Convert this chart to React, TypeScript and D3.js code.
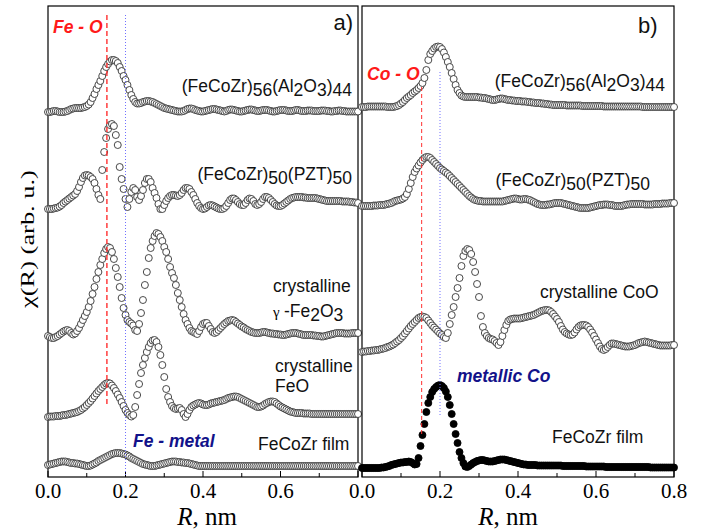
import React, { useEffect, useRef } from "react";
import * as d3 from "d3";

// R grid of every trace, nm (0 .. 0.8 in steps of 0.005)
const R_STEP = 0.005;
const R_COUNT = 161;

const xTicksA = [0.0, 0.2, 0.4, 0.6];
const xTicksB = [0.0, 0.2, 0.4, 0.6, 0.8];
const minorTicks = [0.1, 0.3, 0.5, 0.7];

// Fe-O and metal reference lines, nm
const feO = 0.152;
const feMetal = 0.2;
const coO = 0.153;
const coMetal = 0.2;

// vertical offsets of the stacked traces (arb. u.)
const offsetsA = [365, 267, 141, 60, 11];
const offsetsB = [370, 271, 125, 9];

// panel a) Fe edge
const feAl2O3 = [
  0, 0, 0.5, 1, 1, 0.5, 0, 0, 0, 0.5,
  1, 2, 3, 3.5, 4, 4, 4, 4, 4.5, 5,
  6, 7.5, 10, 14, 18, 23, 27, 31, 36, 41,
  45, 48, 50.5, 52, 52, 51, 49, 45, 41, 36,
  32, 27, 22, 17, 13, 10, 8.5, 8.5, 9, 10,
  10.5, 11, 11, 10.5, 10, 9, 8, 7, 6, 5,
  4, 3.5, 3, 2.5, 2, 1.5, 1, 0.5, 0.5, 0.5,
  1, 2, 3, 3.5, 3.5, 3, 2, 1.5, 1, 0.5,
  0.5, 1, 1.5, 2, 2.5, 3, 3, 2.5, 2, 1.5,
  1, 0.5, 1, 2, 2.5, 2.5, 2, 1.5, 1, 0.5,
  0.5, 1, 1.5, 2, 2.5, 2.5, 2, 1.5, 1, 1,
  1.5, 2, 2, 2, 1.5, 1, 0.5, 0.5, 1, 1.5,
  2, 2, 2, 1.5, 1, 1, 1, 1.5, 2, 2,
  1.5, 1, 1, 1, 1.5, 1.5, 1.5, 1, 1, 1,
  1, 1.5, 1.5, 1.5, 1, 1, 0.5, 0.5, 1, 1,
  1.5, 1.5, 1, 1, 0.5, 0.5, 0.5, 0.5, 0.5, 0.5,
  0.5,
];
const fePZT = [
  1, 1, 1, 1.5, 2, 2.5, 3.5, 5, 7, 8.5,
  10, 11.5, 13, 14.5, 16, 19, 23, 28, 32, 34.5,
  35, 34.5, 33, 31, 27, 21, 15, 11, 40, 58,
  72, 81, 85, 86, 84, 75, 65, 43, 31, 21,
  11, 3, 11, 18, 22, 20, 13, 10, 14, 20,
  27, 31, 31, 28, 22, 17, 12, 6, 1, 1,
  5, 9, 12, 14, 15, 15, 14.5, 14, 15, 17,
  20, 22, 22, 21, 18, 15, 11, 7, 4, 2,
  1, 1.5, 3, 4.5, 5, 4.5, 3.5, 2.5, 1.5, 1,
  1, 2, 4, 7, 10, 11.5, 11.5, 10, 8, 6,
  5, 5, 7, 10, 11.5, 11, 9, 6, 5, 6,
  8, 11, 13, 13, 12, 10, 8, 6, 4.5, 4,
  4, 5, 6.5, 8, 9.5, 11, 12, 12.5, 13, 13,
  13, 13, 12.5, 12.5, 12, 12, 12, 12, 12, 11.5,
  11, 10.5, 10, 9.5, 9, 9, 9, 9, 9, 9,
  9, 9, 8.5, 8.5, 8.5, 8.5, 8, 8, 7.5, 7.5,
  7,
];
const feGammaFe2O3 = [
  0, -1, -2, -2, -1, 0, 1.5, 3, 4.5, 5.5,
  6, 5, 3, 1.5, 2.5, 5, 8, 12, 16, 20,
  24, 29, 35, 42, 49, 57, 64, 71, 77, 83,
  87, 89, 88, 84, 77, 68, 59, 49, 38, 28,
  21, 16, 14, 12.5, 10.5, 6, 5, 12, 23, 36,
  51, 64, 78, 88, 95, 100, 103, 102, 99, 95,
  89, 84, 77, 69, 63, 58, 51, 43, 36, 29,
  22, 16, 12, 8, 5, 4, 3, 2, 5, 9,
  12, 13, 13, 10, 7, 4, 3, 4, 6, 8,
  10, 12, 13.5, 15, 15.5, 16, 15.5, 14, 12.5, 11,
  9.5, 8.5, 7, 6, 5, 4, 3.5, 3, 3, 3,
  3.5, 4, 4, 3.5, 3, 2.5, 2.5, 2, 2, 1.5,
  1.5, 1, 1, 1.5, 2, 2.5, 3, 3, 3, 2.5,
  2, 1.5, 1, 1, 1, 1, 1, 0.5, 0.5, 0,
  0, -0.5, -0.5, 0, 0.5, 1, 1.5, 2, 2.5, 3,
  3, 3, 3, 2.5, 2.5, 2.5, 2.5, 3, 3, 3,
  3,
];
const feFeO = [
  0, 0.5, 0.5, 0.5, 1, 1, 1, 1.5, 2, 2,
  2.5, 3, 3.5, 4, 4.5, 5, 6, 7, 8.5, 10,
  12, 14, 16, 18.5, 21, 23.5, 26, 28, 30, 32,
  33.5, 34, 33.5, 31.5, 29, 26, 22.5, 19, 15, 11,
  7, 4, 2, 0.5, 2, 10, 22, 33, 44, 52,
  59, 65, 70, 74, 76.5, 77, 75, 70, 62, 52,
  40, 28, 20, 15, 11, 9, 8, 8.5, 9, 7,
  3, 0, 3, 7, 10, 11.5, 12.5, 13.5, 14, 13.5,
  12.5, 12, 12, 12.5, 13.5, 14, 14.5, 15, 15.5, 16,
  16.5, 17, 18, 19, 19.5, 20, 20.5, 20.5, 20, 19,
  18, 17, 16, 15, 14, 13, 12, 11, 10, 10,
  10.5, 11.5, 13, 14, 15, 15.5, 15.5, 15, 13.5, 12,
  10.5, 9.5, 8.5, 7.5, 6.5, 5.5, 5, 4.5, 4, 4,
  4, 4, 3.5, 3.5, 3.5, 3.5, 3, 3, 3, 3,
  3, 3, 3, 3, 3, 3, 3, 3, 3, 3,
  3, 3, 3, 3, 3, 3, 3, 3, 3, 3,
  3,
];
const feFilm = [
  1, 1.5, 2, 2.5, 3, 3.5, 4, 4.5, 4.5, 4.5,
  4, 3.5, 3, 3, 2.5, 2.5, 2, 1.5, 1, 0.5,
  0, 0, 0.5, 1.5, 2.5, 3.5, 5, 6, 7, 8,
  9, 10, 11, 12, 12.5, 13, 13, 13, 12.5, 12,
  11.5, 10.5, 9.5, 8, 7, 6, 5, 4, 3, 2,
  1.5, 1, 0.5, 0, 0, 0, 0.5, 1, 1.5, 2,
  2.5, 3, 3.5, 4, 4.5, 4.5, 4.5, 4, 4, 3.5,
  3.5, 3, 3, 2.5, 2, 1.5, 1, 0.5, 0, 0,
  0, 0, 0, 0, 0, 0, 0, 0, 0, 0,
  0, 0, 0, 0, 0, 0, 0, 0, 0, 0,
  0, 0, 0, 0, 0, 0, 0, 0, 0, 0,
  0, 0, 0, 0, 0, 0, 0, 0, 0, 0,
  0, 0, 0, 0, 0, 0, 0, 0, 0, 0,
  0, 0, 0, 0, 0, 0, 0, 0, 0, 0,
  0, 0, 0, 0, 0, 0, 0, 0, 0, 0,
  0, 0, 0, 0, 0, 0, 0, 0, 0, 0,
  0,
];

// panel b) Co edge
const coAl2O3 = [
  0, 0, 0, 0.5, 0.5, 0.5, 0.5, 0.5, 0.5, 0.5,
  0.5, 0.5, 0.5, 0, 0, 0, 0, 0.5, 1, 2,
  3.5, 5, 7, 9, 10.5, 12, 14, 15.5, 17, 19,
  21, 24, 29, 37, 47, 53, 56, 58.5, 60, 60.5,
  60, 58, 54.5, 50, 45, 40, 34, 28, 22, 17,
  14, 11.5, 10.5, 10, 10, 10, 10, 10, 10, 10,
  9.5, 9.5, 9, 9, 8.5, 8, 7.5, 7, 7, 7.5,
  8, 8.5, 8.5, 8, 7.5, 7, 7, 6.5, 6.5, 6,
  6, 6, 5.5, 5.5, 5.5, 5, 5, 4.5, 4.5, 4,
  4, 4, 3.5, 3.5, 3, 3, 2.5, 2.5, 2, 2,
  2, 2, 2, 2, 2, 1.5, 1.5, 1.5, 1.5, 1.5,
  1.5, 1.5, 1.5, 1, 1, 1, 1, 1, 1, 1,
  1, 1, 1, 1, 0.5, 0.5, 0.5, 0.5, 0.5, 0.5,
  0.5, 0.5, 0.5, 0.5, 0.5, 0.5, 0.5, 0.5, 0.5, 0.5,
  0.5, 0.5, 0.5, 0.5, 0, 0, 0, 0, 0, 0,
  0, 0, 0, 0, 0, 0, 0, 0, 0, 0,
  0,
];
const coPZT = [
  0, 0, 0, 0, 0, 0, 0.5, 0.5, 0.5, 1,
  1, 1, 1.5, 2, 2.5, 3, 4, 5, 5.5, 6,
  6.5, 7.5, 9, 12, 17, 23, 29, 34, 37.5, 40.5,
  43.5, 46, 48, 49, 49, 48, 46, 44, 42, 40,
  38, 36.5, 35, 33.5, 32, 30, 28, 26, 24, 22,
  20, 18, 16, 14, 12, 10, 8.5, 7, 6, 5.5,
  5, 5, 4.5, 4.5, 4.5, 4.5, 4.5, 4.5, 4.5, 4.5,
  4.5, 4.5, 4.5, 5, 5.5, 6, 6.5, 7, 7.5, 7.5,
  7, 6.5, 6.5, 7, 7, 6.5, 6, 5, 4, 3,
  2, 1.5, 1, 1, 1, 1.5, 1.5, 2, 2.5, 3,
  3, 3, 3, 2.5, 2, 1.5, 1, 0.5, 0, -0.5,
  -1, -1.5, -2, -2, -2, -2, -2, -1.5, -1, -0.5,
  0, 0.5, 1, 1, 1.5, 1.5, 1.5, 1, 1, 0.5,
  0, 0, 0, 0, 0.5, 1, 1.5, 1.5, 2, 2,
  2, 2, 2, 2, 2, 1.5, 1.5, 1.5, 1.5, 1.5,
  2, 2, 2, 2, 2.5, 2.5, 2.5, 2.5, 3, 3,
  3,
];
const coCoO = [
  0, 0.5, 0.5, 1, 1, 1.5, 1.5, 2, 2, 2.5,
  3, 3.5, 4, 5, 5.5, 6.5, 7.5, 9, 10.5, 12,
  14, 16, 18.5, 21, 23.5, 26, 28, 30, 32, 34,
  35, 35.5, 35, 34, 31.5, 29, 26.5, 24.5, 22.5, 20.5,
  18.5, 17, 15, 14, 19, 28, 37, 45, 55, 64,
  74, 86, 96, 101, 103, 102, 98, 90, 80, 68,
  55, 36, 25, 19, 16, 14, 13, 12.5, 11, 9,
  7, 10, 16, 22, 27, 31, 32.5, 33, 33.5, 33.5,
  33.5, 33.5, 34, 34.5, 35, 35.5, 36, 36.5, 37, 38,
  39, 40, 41, 41.5, 42, 42, 41.5, 40, 38, 35.5,
  33, 30, 26, 22.5, 20, 18.5, 17.5, 17, 17.5, 19.5,
  22.5, 25, 26.5, 27, 27, 26.5, 25, 22.5, 19.5, 16,
  12.5, 9, 5.5, 3, 2, 3, 5, 7, 8.5, 8.5,
  8, 7.5, 7, 6.5, 6, 5.5, 5.5, 5.5, 6, 6.5,
  7, 8, 9, 9.5, 10, 10.5, 10, 9.5, 9, 8.5,
  8, 7.5, 7, 6.5, 6.5, 6.5, 6.5, 6.5, 6.5, 7,
  7,
];
const coFilm = [
  0, 0, 0, 0, 0, 0, 0, 0, 0, 0,
  0.5, 0.5, 1, 1.5, 2, 3, 3.5, 4, 4.5, 5,
  5.5, 5.5, 6, 6, 6.5, 6, 5, 3.5, 4, 10,
  22, 33, 44, 56, 65, 71, 76, 79, 81, 82.5,
  83, 82, 80, 76.5, 71, 63, 54, 44, 34, 25,
  16, 10, 5, 1.5, 1, 2, 3.5, 5, 6, 7,
  7.5, 8, 8, 7.5, 7, 6.5, 6.5, 6.5, 7, 7.5,
  8, 8.5, 8.5, 8.5, 8, 7.5, 7, 6.5, 6, 5.5,
  5, 4.5, 4, 3.5, 3.5, 3, 3, 3, 3, 3,
  2.5, 2.5, 2.5, 2.5, 2.5, 2.5, 2.5, 2.5, 2.5, 2.5,
  2.5, 2.5, 2.5, 2, 2, 2, 2, 2, 2, 2,
  2, 2, 2, 2, 2, 1.5, 1.5, 1.5, 1.5, 1.5,
  1.5, 1.5, 1.5, 1.5, 1.5, 1, 1, 1, 1, 1,
  1, 1, 1, 1, 1, 1, 1, 1, 1, 1,
  1, 1, 1, 1, 1, 1, 1, 1, 0.5, 0.5,
  0.5, 0.5, 0.5, 0.5, 0.5, 0.5, 0.5, 0.5, 0.5, 0.5,
  0.5,
];

const tracesA = [feAl2O3, fePZT, feGammaFe2O3, feFeO, feFilm];
const tracesB = [coAl2O3, coPZT, coCoO, coFilm];

const SANS = "'Liberation Sans', Arial, sans-serif";
const SERIF = "'Liberation Serif', 'Times New Roman', serif";

// "_" toggles subscript
function addLabel(g: any, x: number, y: number, label: string, anchor = "start", extra?: (t: any) => void) {
  const t = g
    .append("text")
    .attr("x", x)
    .attr("y", y)
    .attr("text-anchor", anchor)
    .attr("font-family", SANS)
    .attr("font-size", 17.5)
    .attr("fill", "#111");
  const parts = label.split("_");
  let shift = 0;
  parts.forEach((p, i) => {
    if (p === "") return;
    const want = i % 2 === 1 ? 4 : 0;
    t.append("tspan").attr("dy", want - shift).text(p);
    shift = want;
  });
  if (extra) extra(t);
  return t;
}

export default function App() {
  const svgRef = useRef<SVGSVGElement>(null);

  useEffect(() => {
    const svg = d3.select(svgRef.current);
    svg.selectAll("*").remove();

    const top = 6;
    const bottom = 477;
    const y = d3.scaleLinear().domain([0, 471]).range([bottom, top]);
    const rGrid = d3.range(R_COUNT).map((i) => i * R_STEP);

    const xA = d3.scaleLinear().domain([0, 0.8]).range([48, 358]);
    const xB = d3.scaleLinear().domain([0, 0.8]).range([362, 674]);

    const drawPanel = (x: any, ticks: number[], traces: number[][], offsets: number[], filledLast: boolean) => {
      const g = svg.append("g");
      // frame
      g.append("rect")
        .attr("x", x(0))
        .attr("y", top)
        .attr("width", x(0.8) - x(0))
        .attr("height", bottom - top)
        .attr("fill", "none")
        .attr("stroke", "#000")
        .attr("stroke-width", 1.2);

      // inward ticks on the bottom axis
      g.selectAll(null)
        .data([0, 0.2, 0.4, 0.6, 0.8])
        .join("line")
        .attr("x1", (d: number) => x(d))
        .attr("x2", (d: number) => x(d))
        .attr("y1", bottom)
        .attr("y2", bottom - 6)
        .attr("stroke", "#000");
      g.selectAll(null)
        .data(minorTicks)
        .join("line")
        .attr("x1", (d: number) => x(d))
        .attr("x2", (d: number) => x(d))
        .attr("y1", bottom)
        .attr("y2", bottom - 4)
        .attr("stroke", "#000");

      g.selectAll(null)
        .data(ticks)
        .join("text")
        .attr("x", (d: number) => x(d))
        .attr("y", 498)
        .attr("text-anchor", "middle")
        .attr("font-family", SERIF)
        .attr("font-size", 21)
        .text((d: number) => d.toFixed(1));

      // traces
      traces.forEach((vals, k) => {
        const black = filledLast && k === traces.length - 1;
        g.append("g")
          .selectAll("circle")
          .data(vals)
          .join("circle")
          .attr("cx", (_d: number, i: number) => x(rGrid[i]))
          .attr("cy", (d: number) => y(offsets[k] + d))
          .attr("r", 3.5)
          .attr("fill", black ? "#000" : "#fff")
          .attr("stroke", black ? "#000" : "#363636")
          .attr("stroke-width", 0.9);
      });
      return g;
    };

    const gA = drawPanel(xA, xTicksA, tracesA, offsetsA, false);
    const gB = drawPanel(xB, xTicksB, tracesB, offsetsB, true);

    // reference lines
    gA.append("line")
      .attr("x1", xA(feO)).attr("x2", xA(feO))
      .attr("y1", 15).attr("y2", 404)
      .attr("stroke", "#ff3030").attr("stroke-width", 1.4)
      .attr("stroke-dasharray", "5,3");
    gA.append("line")
      .attr("x1", xA(feMetal)).attr("x2", xA(feMetal))
      .attr("y1", 15).attr("y2", bottom)
      .attr("stroke", "#7070ff").attr("stroke-width", 1)
      .attr("stroke-dasharray", "1,2");
    gB.append("line")
      .attr("x1", xB(coO)).attr("x2", xB(coO))
      .attr("y1", 87).attr("y2", 437)
      .attr("stroke", "#ff3030").attr("stroke-width", 1)
      .attr("stroke-dasharray", "4,3");
    gB.append("line")
      .attr("x1", xB(coMetal)).attr("x2", xB(coMetal))
      .attr("y1", 72).attr("y2", 417)
      .attr("stroke", "#7070ff").attr("stroke-width", 1)
      .attr("stroke-dasharray", "1,2");

    // panel a labels
    addLabel(gA, 353, 30, "a)", "end", (t) => t.attr("font-size", 22));
    addLabel(gA, 53, 33, "Fe - O", "start", (t) =>
      t.attr("fill", "#ff1a1a").attr("font-weight", "bold").attr("font-style", "italic"));
    addLabel(gA, 352, 92, "(FeCoZr)_56_(Al_2_O_3_)_44", "end");
    addLabel(gA, 352, 180, "(FeCoZr)_50_(PZT)_50", "end");
    addLabel(gA, 273, 292, "crystalline");
    gA.append("text")
      .attr("x", 273).attr("y", 317)
      .attr("font-family", SERIF).attr("font-size", 15)
      .text("γ");
    addLabel(gA, 284, 317, "-Fe_2_O_3");
    addLabel(gA, 275, 372, "crystalline");
    addLabel(gA, 275, 392, "FeO");
    addLabel(gA, 258, 450, "FeCoZr film");
    addLabel(gA, 133, 447, "Fe - metal", "start", (t) =>
      t.attr("fill", "#12128a").attr("font-weight", "bold").attr("font-style", "italic"));

    // panel b labels
    addLabel(gB, 638, 33, "b)", "start", (t) => t.attr("font-size", 22));
    addLabel(gB, 367, 80, "Co - O", "start", (t) =>
      t.attr("fill", "#ff1a1a").attr("font-weight", "bold").attr("font-style", "italic"));
    addLabel(gB, 665, 87, "(FeCoZr)_56_(Al_2_O_3_)_44", "end");
    addLabel(gB, 650, 186, "(FeCoZr)_50_(PZT)_50", "end");
    addLabel(gB, 540, 298, "crystalline CoO");
    addLabel(gB, 457, 382, "metallic Co", "start", (t) =>
      t.attr("fill", "#12128a").attr("font-weight", "bold").attr("font-style", "italic"));
    addLabel(gB, 552, 443, "FeCoZr film");

    // axis titles
    [207, 508].forEach((cx) => {
      const t = svg.append("text")
        .attr("x", cx)
        .attr("y", 525)
        .attr("text-anchor", "middle")
        .attr("font-family", SERIF)
        .attr("font-size", 25);
      t.append("tspan").attr("font-style", "italic").text("R");
      t.append("tspan").text(", nm");
    });

    // y title, drawn narrow and tall like the reference
    svg.append("text")
      .attr("transform", "translate(34,239) rotate(-90) scale(1.1,0.8)")
      .attr("text-anchor", "middle")
      .attr("font-family", SERIF)
      .attr("font-size", 24)
      .text("χ(R) (arb. u.)");
  }, []);

  return (
    <svg
      ref={svgRef}
      width={705}
      height={532}
      style={{ position: "absolute", left: 0, top: 0, background: "#fff" }}
    />
  );
}
